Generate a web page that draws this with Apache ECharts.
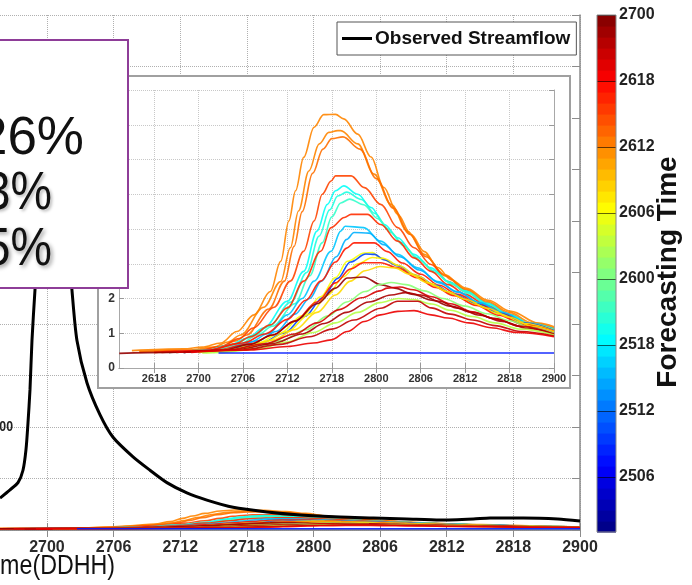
<!DOCTYPE html>
<html><head><meta charset="utf-8">
<script src="https://cdn.jsdelivr.net/npm/echarts@6/dist/echarts.min.js"></script>
<style>html,body{margin:0;padding:0;background:#fff;}#c{width:692px;height:585px;}</style>
</head><body><div id="c"></div>
<script>
// Time axes: hours counted from 2600 (day 26, hour 00); colorbar: hours from 2500
const mainTickHours = [24, 30, 36, 42, 48, 54, 60, 66, 72];
const insetTickHours = [18, 24, 30, 36, 42, 48, 54, 60, 66, 72];
const colorbarTickHours = [6, 12, 18, 24, 30, 36, 42, 48];
const colorbarBands = [1,2,3,4,5,6,7,8,9,10,11,12,13,14,15,16,17,18,19,20,21,22,23,24,25,26,27,28,29,30,31,32,33,34,35,36,37,38,39,40,41,42,43,44,45,46,47];

// Observed streamflow (main plot) [hour, flow]
const observedStreamflow = [[19.77,31],[20.67,39],[21.39,46],[21.84,58],[22.11,78],[22.29,104],[22.47,136],[22.65,184],[22.92,233],[23.19,272],[23.8,380],[24.5,430],[25.0,410],[25.6,320],[26.25,233],[26.7,184],[27.6,143],[28.77,112],[29.95,90],[31.75,71],[33.28,58],[34.8,46],[36.6,36],[38.4,29],[40.76,22],[43.8,17.5],[46.8,14.6],[50.4,12.6],[53.4,11.7],[56.4,10.7],[59.4,9.7],[62.4,10.7],[63.9,11.7],[66.9,11.7],[70,10.7],[72,8.7]];

// Forecast issue times (DDHH) for each forecast curve
const fcTimes = ['2612','2612','2613','2615','2519','2520','2521','2616','2516','2515','2617','2606','2510','2607','2617','2608','2623','2601','2620','2622','2603','2621','2619','2508'];

// Forecast curves [hour, flow]
const fc01 = [[15,0.5],[22,0.55],[24.5,0.6],[27,0.72],[29.2,1.05],[31.5,1.53],[33.7,2.2],[35.1,3.07],[36.2,4.23],[37.1,5.1],[38.2,6.06],[39.6,6.93],[40.9,7.29],[42.5,7.3],[43.6,7.17],[45.5,6.73],[47.3,6.07],[49,5.2],[50.9,4.42],[52.7,3.84],[54.5,3.35],[56.3,2.89],[58.1,2.54],[60.1,2.3],[63.1,1.95],[66.2,1.63],[69.9,1.29],[72,1.19]];
const fc02 = [[16,0.48],[23,0.52],[26,0.6],[28,0.75],[29.7,0.95],[32.8,1.75],[35.1,2.49],[36.4,3.46],[37.5,4.52],[38.9,5.67],[40.3,6.45],[41.6,6.78],[42.8,6.83],[43.2,6.83],[45.5,6.45],[47.7,5.58],[50,4.71],[52.2,3.94],[54.5,3.27],[57.2,2.69],[60,2.28],[63,1.92],[66,1.6],[69,1.3],[72,1.15]];
const fc03 = [[16,0.46],[24,0.52],[27,0.62],[29,0.78],[30.5,0.95],[33.5,1.7],[35.6,2.5],[36.9,3.5],[38,4.5],[39.4,5.6],[40.8,6.3],[42,6.6],[43.5,6.65],[45.8,6.3],[48,5.45],[50.3,4.6],[52.5,3.85],[54.7,3.2],[57.3,2.65],[60,2.25],[63,1.88],[66,1.55],[69,1.25],[72,1.12]];
const fc04 = [[18,0.45],[24,0.5],[27,0.62],[29.5,0.85],[31.4,1.15],[34.2,1.75],[36.4,2.5],[38.2,3.36],[39.6,4.23],[40.7,5.0],[41.9,5.38],[42.5,5.53],[44.6,5.53],[46.4,5.19],[48.6,4.71],[50.9,4.04],[53.1,3.46],[55.4,2.98],[57.7,2.49],[60,2.2],[63,1.85],[66,1.5],[69,1.22],[72,1.1]];
const fc05 = [[20,0.45],[25,0.5],[28,0.65],[30.5,0.85],[32.8,1.15],[36,1.92],[38.2,2.78],[40,3.94],[41.4,4.71],[42.5,5.1],[43.6,5.24],[45.5,5.0],[47.3,4.62],[49.1,4.13],[50.9,3.75],[53.1,3.27],[55.4,2.88],[57.7,2.49],[60,2.22],[63,1.86],[66,1.53],[69,1.25],[72,1.12]];
const fc06 = [[20,0.45],[26,0.52],[29,0.7],[31.5,0.95],[33.5,1.2],[36.5,1.9],[38.6,2.75],[40.3,3.8],[41.7,4.55],[42.8,4.95],[44,5.06],[46,4.85],[47.8,4.45],[49.6,4.0],[51.3,3.62],[53.5,3.18],[55.8,2.8],[58,2.45],[60.3,2.18],[63,1.83],[66,1.5],[69,1.22],[72,1.1]];
const fc07 = [[21,0.45],[26,0.5],[29.5,0.68],[32,0.95],[34,1.2],[37,1.85],[39,2.65],[40.7,3.6],[42,4.35],[43.2,4.75],[44.4,4.86],[46.3,4.7],[48.2,4.3],[50,3.9],[51.7,3.52],[53.8,3.1],[56,2.74],[58.3,2.4],[60.5,2.14],[63,1.8],[66,1.48],[69,1.2],[72,1.08]];
const fc08 = [[18,0.45],[25,0.5],[29,0.7],[31,0.9],[33.7,1.24],[36,1.73],[38.2,2.5],[40.5,3.36],[41.9,4.04],[43.7,4.33],[44.6,4.42],[46.8,4.42],[48.6,4.13],[50.9,3.65],[53.1,3.17],[55.4,2.78],[57.7,2.4],[60,2.12],[63,1.78],[66,1.46],[69,1.2],[72,1.08]];
const fc09 = [[22,0.45],[27,0.52],[31,0.75],[33.5,1.0],[36,1.53],[38,2.0],[39.6,2.5],[41.9,3.36],[43.2,3.94],[43.8,4.08],[46.3,4.04],[48.6,3.65],[50.9,3.27],[53.6,2.88],[56.3,2.49],[59,2.2],[62,1.88],[65,1.6],[68.5,1.3],[72,1.12]];
const fc10 = [[22,0.45],[28,0.52],[32,0.78],[34.5,1.05],[37,1.55],[39,2.0],[40.6,2.5],[42.6,3.2],[44,3.7],[45,3.9],[47,3.88],[49,3.55],[51.2,3.2],[53.8,2.82],[56.5,2.45],[59,2.18],[62,1.86],[65,1.58],[68.5,1.28],[72,1.1]];
const fc11 = [[19,0.45],[25,0.5],[30,0.72],[33,0.98],[36,1.4],[38.5,1.95],[40.5,2.5],[42.5,3.05],[44,3.45],[45,3.6],[47.7,3.6],[49.5,3.35],[51.5,3.02],[54,2.7],[56.5,2.38],[59,2.12],[62,1.82],[65,1.55],[68.5,1.25],[72,1.08]];
const fc12 = [[24,0.45],[28,0.5],[32,0.72],[35,1.0],[38,1.5],[40.5,2.05],[42.5,2.6],[44.1,3.07],[46.4,3.31],[47.5,3.32],[48.6,3.17],[50.5,2.98],[53,2.7],[55.5,2.42],[58,2.16],[61,1.88],[64,1.62],[67.5,1.32],[72,1.1]];
const fc13 = [[24,0.45],[28.5,0.5],[32.5,0.72],[35.5,1.0],[38.3,1.48],[40.8,2.02],[42.8,2.58],[44.5,3.05],[46.6,3.28],[47.8,3.27],[49,3.12],[51,2.94],[53.4,2.66],[56,2.38],[58.5,2.12],[61.5,1.85],[64.5,1.58],[68,1.3],[72,1.08]];
const fc14 = [[24,0.45],[29,0.52],[33,0.75],[36,1.05],[39,1.55],[41.5,2.1],[43.5,2.62],[45.5,3.0],[47.5,3.18],[49,3.15],[51,2.95],[53.5,2.65],[56,2.36],[58.5,2.1],[61.5,1.82],[64.5,1.56],[68,1.28],[72,1.06]];
const fc15 = [[20,0.45],[26,0.5],[31,0.7],[34,0.95],[37,1.35],[40,1.9],[42.5,2.45],[44.5,2.85],[46.3,3.03],[48.6,3.03],[50.9,2.88],[53.5,2.6],[56,2.32],[58.5,2.08],[61.5,1.8],[64.5,1.52],[68,1.24],[72,1.05]];
const fc16 = [[25,0.45],[30,0.55],[34,0.8],[37,1.1],[40,1.6],[42.5,2.1],[44.5,2.5],[46.5,2.8],[48.5,2.92],[50.5,2.88],[52.5,2.7],[55,2.45],[57.5,2.2],[60,1.98],[63,1.72],[66,1.46],[69,1.2],[72,1.04]];
const fc17 = [[13.3,0.42],[20,0.45],[27,0.5],[31,0.68],[34,0.95],[37,1.35],[40,1.85],[42.5,2.3],[44.1,2.59],[46.3,2.62],[48.6,2.4],[50.5,2.3],[53,2.12],[55.5,1.95],[58,1.78],[61,1.6],[64,1.42],[67.5,1.2],[72,1.0]];
const fc18 = [[26,0.45],[31,0.55],[35,0.78],[38.5,1.1],[41.5,1.5],[44,1.9],[46.5,2.2],[48.5,2.4],[50,2.46],[52,2.4],[54.5,2.22],[57,2.0],[60,1.78],[63,1.56],[66,1.36],[69,1.15],[72,1.0]];
const fc19 = [[21,0.45],[28,0.52],[33,0.7],[37,0.98],[40,1.3],[43,1.68],[46,2.02],[48.5,2.22],[49.5,2.3],[51.2,2.33],[53,2.25],[55.5,2.05],[58,1.85],[61,1.62],[64,1.42],[67.5,1.2],[72,0.98]];
const fc20 = [[22,0.45],[29,0.52],[34,0.7],[38,0.98],[41,1.28],[44,1.6],[47,1.9],[50,2.1],[52,2.17],[54,2.1],[56.5,1.92],[59,1.72],[62,1.52],[65,1.34],[68.5,1.14],[72,0.96]];
const fc21 = [[24.5,0.43],[27,0.45],[32,0.55],[36,0.75],[39.5,1.02],[42.5,1.3],[45.5,1.6],[48.5,1.88],[51,2.0],[53,1.97],[55.5,1.84],[58,1.66],[61,1.48],[64,1.3],[67.5,1.12],[72,0.95]];
const fc22 = [[22,0.45],[30,0.52],[35,0.68],[39,0.9],[42,1.12],[45,1.38],[48.6,1.72],[50.9,1.92],[53.6,1.92],[55.4,1.73],[58,1.55],[61,1.38],[64,1.22],[67.5,1.05],[72,0.92]];
const fc23 = [[23,0.45],[31,0.52],[36,0.62],[39.5,0.72],[41.9,0.81],[44.1,1.05],[46.4,1.34],[48.6,1.53],[50.9,1.63],[53.1,1.65],[55.4,1.53],[57.7,1.44],[60.5,1.3],[63.5,1.16],[67,1.02],[72,0.9]];
const fc24 = [[26.7,0.43],[72,0.43]];
const forecastCurves = [fc01,fc02,fc03,fc04,fc05,fc06,fc07,fc08,fc09,fc10,fc11,fc12,fc13,fc14,fc15,fc16,fc17,fc18,fc19,fc20,fc21,fc22,fc23,fc24];

const SANS = "'Liberation Sans',Arial,sans-serif";
const CB_MIN = 1, CB_MAX = 48;

function clamp(x){ return Math.max(0, Math.min(1, x)); }
function jet(t){
  t = clamp(t);
  const r = clamp(1.5 - Math.abs(4*t - 3)), g = clamp(1.5 - Math.abs(4*t - 2)), b = clamp(1.5 - Math.abs(4*t - 1));
  return 'rgb(' + Math.round(r*255) + ',' + Math.round(g*255) + ',' + Math.round(b*255) + ')';
}
function timeToHour(s){ return (parseInt(s.slice(0,2),10) - 25)*24 + parseInt(s.slice(2),10); }
function hourLabel(baseDay){
  return function(v){ const d = baseDay + Math.floor(v/24 + 1e-9); const h = Math.round(v - (d-baseDay)*24); return String(d) + (h < 10 ? '0' : '') + h; };
}
function txt(o){ o.style.align = o.style.textAlign; o.style.verticalAlign = o.style.textVerticalAlign; return o; }

const axGray = '#8c8c8c';
const series = [];
forecastCurves.forEach(function(curve, i){
  const col = jet((timeToHour(fcTimes[i]) - CB_MIN) / (CB_MAX - CB_MIN));
  series.push({ type:'line', xAxisIndex:2, yAxisIndex:2, data:curve, smooth:0.35, smoothMonotone:'x', showSymbol:false, symbol:'none', silent:true, z:4,
    lineStyle:{ color:col, width:1.6, opacity:0.9 } });
  series.push({ type:'line', xAxisIndex:0, yAxisIndex:1, data:curve, smooth:0.35, smoothMonotone:'x', showSymbol:false, symbol:'none', silent:true, z:2,
    lineStyle:{ color:col, width:1.6, opacity:0.9 } });
});
series.push({ name:'Observed Streamflow', type:'line', xAxisIndex:0, yAxisIndex:0, data:observedStreamflow, smooth:0.25, showSymbol:false, symbol:'none', z:3,
  lineStyle:{ color:'#000', width:3 } });
series.push({ type:'custom', xAxisIndex:4, yAxisIndex:5, data: colorbarBands.map(function(b){ return [0, b]; }), silent:true, z:2,
  renderItem: function(params, api){
    const v = api.value(1);
    const p0 = api.coord([0, v]), p1 = api.coord([1, v + 1]);
    return { type:'rect', shape:{ x:p0[0], y:p1[1], width:p1[0]-p0[0], height:p0[1]-p1[1]+0.6 }, style:{ fill: jet((v + 0.5 - CB_MIN)/(CB_MAX - CB_MIN)) } };
  } });

const option = {
  animation:false,
  backgroundColor:'#fff',
  grid:[
    { left:0, right:112, top:15, bottom:55 },
    { left:119, right:138, top:90, bottom:217 },
    { left:597, right:76, top:15, bottom:53 }
  ],
  legend:{ data:[{ name:'Observed Streamflow', itemStyle:{ color:'#000' } }], left:337, top:22, icon:'rect', itemWidth:30, itemHeight:3, itemGap:4,
    padding:[7,6,7,5], borderColor:'#555', borderWidth:1, backgroundColor:'#fff',
    textStyle:{ fontFamily:SANS, fontWeight:'bold', fontSize:19, color:'#111', padding:[0,0,0,-2] } },
  xAxis:[
    { gridIndex:0, type:'value', position:'bottom', min:19.77, max:72,
      axisLine:{ lineStyle:{ color:axGray, width:1.5 } },
      axisTick:{ inside:true, length:7, customValues:mainTickHours, lineStyle:{ color:axGray } },
      axisLabel:{ customValues:mainTickHours, formatter:hourLabel(26), fontFamily:SANS, fontWeight:'bold', fontSize:16, color:'#2a2a2a', margin:10 },
      splitLine:{ show:true, lineStyle:{ color:'#b0b0b0', type:'dotted' } } },
    { gridIndex:0, type:'value', position:'top', min:19.77, max:72,
      axisLine:{ lineStyle:{ color:axGray, width:1.5 } },
      axisTick:{ inside:true, length:7, customValues:mainTickHours, lineStyle:{ color:axGray } },
      axisLabel:{ show:false }, splitLine:{ show:false } },
    { gridIndex:1, type:'value', position:'bottom', min:13.26, max:72, z:3,
      axisLine:{ lineStyle:{ color:'#a8a8a8' } },
      axisTick:{ inside:true, length:5, customValues:insetTickHours, lineStyle:{ color:'#999' } },
      axisLabel:{ customValues:insetTickHours, formatter:hourLabel(26), fontFamily:SANS, fontWeight:'bold', fontSize:11, color:'#333', margin:5 },
      splitLine:{ show:true, lineStyle:{ color:'#c8c8c8', type:'dotted' } } },
    { gridIndex:1, type:'value', position:'top', min:13.26, max:72, z:3,
      axisLine:{ lineStyle:{ color:'#a8a8a8' } },
      axisTick:{ inside:true, length:5, customValues:insetTickHours, lineStyle:{ color:'#999' } },
      axisLabel:{ show:false }, splitLine:{ show:false } },
    { gridIndex:2, type:'value', min:0, max:1, show:false }
  ],
  yAxis:[
    { gridIndex:0, type:'value', position:'right', min:0, max:500, interval:50,
      axisLine:{ show:true, lineStyle:{ color:axGray, width:1.5 } },
      axisTick:{ show:true, inside:true, length:8, lineStyle:{ color:axGray } },
      axisLabel:{ show:false },
      splitLine:{ show:true, lineStyle:{ color:'#b0b0b0', type:'dotted' } } },
    { gridIndex:0, type:'value', min:0, max:188, show:false },
    { gridIndex:1, type:'value', position:'left', min:0, max:8, interval:1, z:3,
      axisLine:{ show:true, lineStyle:{ color:'#a8a8a8' } },
      axisTick:{ show:true, inside:true, length:5, lineStyle:{ color:'#999' } },
      axisLabel:{ fontFamily:SANS, fontWeight:'bold', fontSize:12, color:'#333', margin:4 },
      splitLine:{ show:true, lineStyle:{ color:'#c8c8c8', type:'dotted' } } },
    { gridIndex:1, type:'value', position:'right', min:0, max:8, interval:1, z:3,
      axisLine:{ show:true, lineStyle:{ color:'#a8a8a8' } },
      axisTick:{ show:true, inside:true, length:5, lineStyle:{ color:'#999' } },
      axisLabel:{ show:false }, splitLine:{ show:false } },
    { gridIndex:2, type:'value', show:false, min:0, max:1 },
    { gridIndex:2, type:'value', position:'right', min:CB_MIN, max:CB_MAX, z:5,
      axisLine:{ show:false },
      axisTick:{ show:true, inside:true, length:19, customValues:colorbarTickHours, lineStyle:{ color:'rgba(0,0,0,0.6)', width:1 } },
      axisLabel:{ customValues:colorbarTickHours, formatter:hourLabel(25), fontFamily:SANS, fontWeight:'bold', fontSize:16, color:'#222', margin:3 },
      splitLine:{ show:false } }
  ],
  graphic:[
    { type:'rect', silent:true, z:1, shape:{ x:98, y:76, width:472, height:312 }, style:{ fill:'#fff', stroke:'#a0a0a0', lineWidth:2 } },
    { type:'rect', silent:true, z:10, shape:{ x:597, y:15, width:19, height:517 }, style:{ fill:'none', stroke:'#888', lineWidth:1 } },
    txt({ type:'text', silent:true, z:10, x:668, y:272, rotation:Math.PI/2,
      style:{ text:'Forecasting Time', fontFamily:SANS, fontWeight:'bold', fontSize:28, fill:'#111', textAlign:'center', textVerticalAlign:'middle' } }),
    txt({ type:'text', silent:true, z:10, x:115, y:566, scaleX:0.83,
      style:{ text:'Time(DDHH)', fontFamily:SANS, fontSize:28, fill:'#111', textAlign:'right', textVerticalAlign:'middle' } }),
    txt({ type:'text', silent:true, z:10, x:13, y:427, scaleX:0.82,
      style:{ text:'100', fontFamily:SANS, fontWeight:'bold', fontSize:15, fill:'#222', textAlign:'right', textVerticalAlign:'middle' } }),
    { type:'rect', silent:true, z:100, shape:{ x:-10, y:40, width:138, height:248 }, style:{ fill:'#fff', stroke:'#8e3d98', lineWidth:2 } },
    txt({ type:'text', silent:true, z:101, x:84, y:139,
      style:{ text:'26%', fontFamily:SANS, fontSize:53, fill:'#111', textAlign:'right', textVerticalAlign:'middle' } }),
    txt({ type:'text', silent:true, z:101, x:52, y:194, scaleX:0.88,
      style:{ text:'3%', fontFamily:SANS, fontSize:53, fill:'#111', textAlign:'right', textVerticalAlign:'middle',
        textShadowColor:'rgba(0,0,0,0.25)', textShadowBlur:3, textShadowOffsetX:2, textShadowOffsetY:2 } }),
    txt({ type:'text', silent:true, z:101, x:52, y:250, scaleX:0.88,
      style:{ text:'5%', fontFamily:SANS, fontSize:53, fill:'#111', textAlign:'right', textVerticalAlign:'middle',
        textShadowColor:'rgba(0,0,0,0.4)', textShadowBlur:4, textShadowOffsetX:2, textShadowOffsetY:2 } })
  ],
  series: series
};

const chart = echarts.init(document.getElementById('c'), null, { renderer:'canvas', width:692, height:585 });
chart.setOption(option);
</script>
</body></html>
